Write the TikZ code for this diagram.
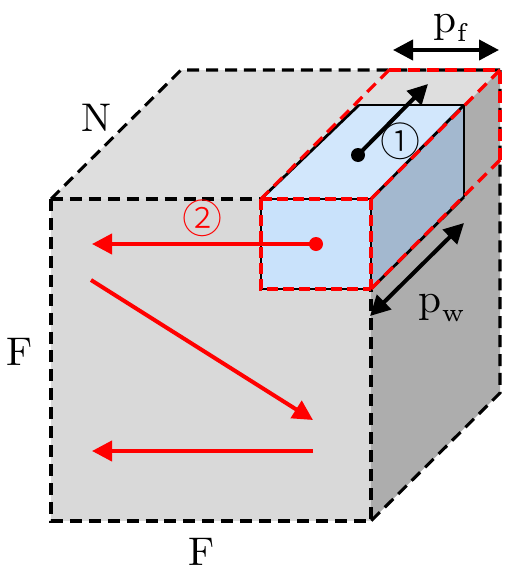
\documentclass[tikz,border=0pt]{standalone}
\usepackage{fontspec}
\usetikzlibrary{arrows.meta}
\newfontfamily\cjkfont{Noto Sans CJK SC Light}
\definecolor{topgrey}{HTML}{DEDEDE}
\definecolor{frontgrey}{HTML}{D9D9D9}
\definecolor{sidegrey}{HTML}{ADADAD}
\definecolor{chtop}{HTML}{D2E7FC}
\definecolor{chfront}{HTML}{C9E2FB}
\definecolor{chside}{HTML}{A3B8CF}
\newcommand{\subtext}[1]{\raisebox{-2.2pt}{\fontsize{6.2}{6.2}\selectfont #1}}
\tikzset{
  px/.style={x=0.75pt,y=-0.75pt},
  blackdash/.style={draw=black,line width=2.3pt,dash pattern=on 9pt off 5.2pt},
  reddash/.style={draw=red,line width=2.4pt,dash pattern=on 9pt off 5.2pt},
  redrect/.style={draw=red,line width=2.4pt,dash pattern=on 8pt off 4pt},
  redsolid/.style={draw=red,line width=3pt},
  solidedge/.style={draw=black,line width=2.1pt},
  bigtip/.style={-{Triangle[length=15pt,width=15pt]}},
  bothtip/.style={{Triangle[length=15pt,width=15pt]}-{Triangle[length=15pt,width=15pt]},line width=3pt},
  lab/.style={inner sep=0pt,scale=3,font=\fontsize{10}{10}\selectfont},
  plab/.style={inner sep=0pt,scale=3.1,anchor=base west,font=\fontsize{10}{10}\selectfont},
  circ/.style={inner sep=0pt,font=\fontsize{30}{30}\selectfont\cjkfont},
  dotmark/.style={circle,inner sep=0pt,minimum size=10.5pt},
}
\begin{document}
\begin{tikzpicture}[px]
\useasboundingbox (0,0) rectangle (514,575);
% cube corners
\coordinate (ftl) at (51,199);
\coordinate (ftr) at (371,199);
\coordinate (fbl) at (51,521);
\coordinate (fbr) at (371,521);
\coordinate (btl) at (181,70);
\coordinate (btr) at (500,70);
\coordinate (bbr) at (500,393);
% channel corners
\coordinate (cfl) at (261,199);
\coordinate (cbl) at (261,289);
\coordinate (cbr) at (371,289);
\coordinate (rtl) at (359,105);
\coordinate (rtr) at (464,105);
\coordinate (rbr) at (464,197);
\coordinate (mtop) at (389,70);
\coordinate (medge) at (500,160);
% faces
\fill[topgrey] (ftl) -- (btl) -- (btr) -- (ftr) -- cycle;
\fill[frontgrey] (ftl) rectangle (fbr);
\fill[sidegrey] (ftr) -- (btr) -- (bbr) -- (fbr) -- cycle;
\fill[chtop] (cfl) -- (rtl) -- (rtr) -- (ftr) -- cycle;
\fill[chfront] (cfl) rectangle (cbr);
\fill[chside] (ftr) -- (rtr) -- (rbr) -- (cbr) -- cycle;
% black dashed cube
\draw[blackdash] (ftl) -- (btl) -- (btr);
\draw[blackdash] (btr) -- (bbr) -- (fbr);
\draw[blackdash] (ftl) -- (fbl) -- (fbr) -- (cbr);
\draw[blackdash] (ftl) -- (cfl);
% solid channel edges
\draw[solidedge] (rtl) -- (rtr) -- (rbr);
\draw[solidedge] (ftr) -- (rtr);
\draw[solidedge] (cfl) -- (rtl);
\draw[solidedge] (cbr) -- (rbr);
\draw[solidedge] (ftr) -- (cbr);
\draw[solidedge] (cfl) -- (ftr);
\draw[solidedge] (cfl) -- (cbl) -- (cbr);
% red dashed outline
\draw[reddash] (mtop) -- (cfl);
\draw[redrect] (cfl) -- (cbl) -- (cbr);
\draw[reddash] (medge) -- (cbr);
\draw[reddash] (medge) -- (btr) -- (mtop);
\draw[reddash] (btr) -- (ftr);
\draw[redrect] (cfl) -- (ftr);
\draw[redrect] (ftr) -- (cbr);
% dimension arrows
\coordinate (pfa) at (393,50);
\coordinate (pfb) at (499,50);
\draw[bothtip] (pfa) -- (pfb);
\coordinate (pwa) at (370,316);
\coordinate (pwb) at (464,223);
\draw[bothtip] (pwa) -- (pwb);
% arrow 1
\node[dotmark,fill=black] (d1) at (358,155) {};
\coordinate (a1) at (428,84);
\draw[bigtip,line width=3pt] (d1.center) -- (a1);
% red arrows
\node[dotmark,fill=red] (d2) at (316,244) {};
\coordinate (a2) at (92,244);
\draw[bigtip,redsolid,fill=red] (d2.center) -- (a2);
\coordinate (s3) at (91,280);
\coordinate (e3) at (313,420);
\draw[bigtip,redsolid] (s3) -- (e3);
\coordinate (s4) at (313,451);
\coordinate (e4) at (92,451);
\draw[bigtip,redsolid] (s4) -- (e4);
% labels
\node[lab] (lN) at (96,118) {N};
\node[lab] (lF1) at (20,352) {F};
\node[lab] (lF2) at (202,552) {F};
\node[plab] (lpf) at (433,32) {p\subtext{f}};
\node[plab] (lpw) at (418,312) {p\subtext{w}};
\node[circ,text=black] (c1) at (400,141) {①};
\node[circ,text=red] (c2) at (202,218) {②};
\end{tikzpicture}
\end{document}
